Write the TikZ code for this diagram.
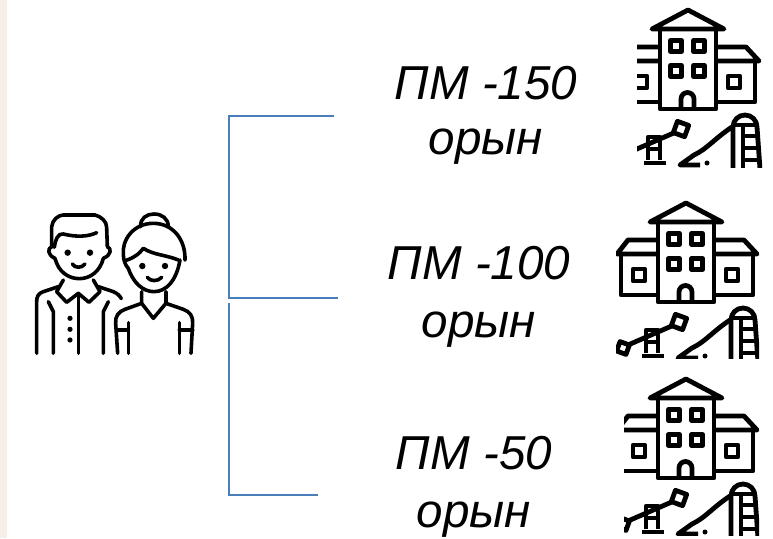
\documentclass[tikz,border=0pt]{standalone}
\usepackage{fontspec}
\setmainfont{Liberation Sans}
\usetikzlibrary{positioning,calc}
\definecolor{c1}{RGB}{74, 126, 187}
\definecolor{c2}{RGB}{246, 238, 232}
\tikzset{
	bracket/.style={
		c1, line width=2pt
	},
	%
	placelabel/.style={
		align=center, inner sep=0pt, font=\fontsize{47.6}{55}\selectfont\itshape
	},
	%
	iconline/.style={
		black, line width=4.8pt, line join=round
	},
	%
	personline/.style={
		black, line width=3.6pt, line cap=round, line join=round
	}
}
% school with playground, drawn from (0,0) of its own corner
\newcommand{\schoolicon}{
    \draw[iconline] (50,32) -- (86,13) -- (122,32) -- cycle;
    \draw[iconline] (58,32) -- (58,112) -- (114,112) -- (114,32);
    \foreach \wx in {74,97} {
        \foreach \wy in {49,74} {
            \draw[iconline] (\wx-5.5,\wy-5.5) rectangle (\wx+5.5,\wy+5.5);
        }
    }
    \draw[iconline] (79,112) -- (79,102) arc (180:360:6.5) -- (92,112);
    \draw[iconline] (58,50) -- (28,50) -- (17,64) -- (58,64);
    \draw[iconline] (21,64) -- (21,105) -- (58,105);
    \draw[iconline] (33,79) rectangle (45,91);
    \draw[iconline] (114,50) -- (144,50) -- (157,64) -- (114,64);
    \draw[iconline] (153,64) -- (153,105) -- (114,105);
    \draw[iconline] (126,79) rectangle (138,91);
    % slide
    \draw[iconline] (131,172) -- (131,130) arc (180:360:12) -- (158,172);
    \draw[iconline] (131,128) -- (155,128);
    \draw[iconline] (141,128) -- (141,172);
    \draw[iconline] (141,139) -- (156,139) (141,151) -- (157,151) (141,163) -- (158,163);
    \draw[iconline] (130,130) .. controls (112,142) and (105,152) .. (92,158) -- (78,168) -- (98,168);
    \fill (105,166) circle (2.5pt);
    % seesaw
    \draw[iconline, rotate around={-20:(79,132)}] (73,126) rectangle (85,138);
    \draw[iconline, rotate around={-20:(23,158)}] (18,153) rectangle (28,163);
    \draw[iconline] (28,155) -- (74,135);
    \draw[iconline] (46,163) -- (46,140) -- (58,140) -- (58,163) (46,152) -- (58,152);
    \draw[iconline] (42,166) -- (64,166);
}
\newcommand{\personicon}{
    % man
    \draw[personline] (95,170) -- (95,110) .. controls (97,90) and (115,75) .. (130,75) -- (225,75) .. controls (245,80) and (260,95) .. (260,112) -- (262,170);
    \draw[personline] (103,172) .. controls (105,150) and (115,128) .. (130,132) .. controls (170,142) and (205,140) .. (230,128);
    \draw[personline] (95,170) .. controls (82,175) and (82,195) .. (105,205);
    \draw[personline] (262,170) .. controls (275,175) and (275,195) .. (250,205);
    \draw[personline] (105,205) .. controls (115,245) and (145,266) .. (178,266) .. controls (210,266) and (240,245) .. (250,205);
    \fill (143,188) circle (3.2pt) (210,188) circle (3.2pt);
    \draw[personline] (157,222) .. controls (165,235) and (185,235) .. (195,222);
    \draw[personline] (130,270) -- (110,305) -- (140,337) -- (175,310) -- (207,337) -- (240,305) -- (220,270);
    \draw[personline] (115,290) -- (70,305) .. controls (55,310) and (50,320) .. (50,335) -- (50,490);
    \draw[personline] (235,290) -- (280,305) .. controls (292,310) and (300,318) .. (304,326);
    \draw[personline] (175,310) -- (175,490);
    \fill (150,385) circle (2.6pt) (150,418) circle (2.6pt) (150,450) circle (2.6pt);
    \draw[personline] (85,335) -- (100,365) -- (100,490);
    \draw[personline] (265,335) -- (250,365) -- (250,490);
    % woman
    \draw[personline] (362,110) .. controls (360,85) and (380,72) .. (402,72) .. controls (425,72) and (445,85) .. (445,110);
    \draw[personline] (495,210) .. controls (497,150) and (460,100) .. (400,100) .. controls (340,100) and (305,150) .. (310,195) .. controls (311,210) and (315,225) .. (325,235);
    \draw[personline] (315,212) .. controls (340,205) and (360,190) .. (370,175) .. controls (400,195) and (440,195) .. (475,210);
    \draw[personline] (325,235) .. controls (340,280) and (370,305) .. (402,305) .. controls (440,305) and (470,270) .. (480,210);
    \fill (367,228) circle (3.2pt) (435,228) circle (3.2pt);
    \draw[personline] (382,262) .. controls (390,275) and (415,275) .. (425,262);
    \draw[personline] (365,305) -- (365,340) -- (400,385) -- (438,340) -- (438,305);
    \draw[personline] (365,340) -- (315,358) .. controls (295,365) and (285,380) .. (287,400) -- (293,490);
    \draw[personline] (438,340) -- (490,358) .. controls (510,365) and (520,380) .. (518,400) -- (513,490);
    \draw[personline] (290,420) -- (325,420) (325,398) -- (325,490);
    \draw[personline] (478,398) -- (478,490) (478,420) -- (518,420);
}
\begin{document}
\begin{tikzpicture}[x=1pt, y=-1pt]
    \useasboundingbox (0,0) rectangle (773,538);
    \fill[c2] (0,0) rectangle (7,538);
    % labels
    \node(big)[placelabel] at (486,115.5) {ПМ -150\\орын};
    \node(mid)[placelabel] at (479,297) {ПМ -100\\[3pt]орын};
    \node(small)[placelabel] at (474,487) {ПМ -50\\[3pt]орын};
    % brackets
    \coordinate (bigend) at (334,116);
    \coordinate (midend) at (338,298);
    \coordinate (smallend) at (318,495);
    \coordinate (split) at (229,298);
    \coordinate (splitlow) at (229,303);
    \draw[bracket] (bigend) -- (bigend -| split) -- (split) -- (midend);
    \draw[bracket] (splitlow) -- (smallend -| splitlow) -- (smallend);
    % parents
    \begin{scope}[shift={(20,190)}, x=0.3333pt, y=-0.3333pt]
        \personicon
    \end{scope}
    % schools
    \begin{scope}
        \clip (637,0) rectangle (762,167);
        \begin{scope}[shift={(602,-3)}]
            \schoolicon
        \end{scope}
    \end{scope}
    \begin{scope}
        \clip (616,190) rectangle (759,358);
        \begin{scope}[shift={(600,190)}]
            \schoolicon
        \end{scope}
    \end{scope}
    \begin{scope}
        \clip (624,370) rectangle (759,535);
        \begin{scope}[shift={(600,366)}]
            \schoolicon
        \end{scope}
    \end{scope}
\end{tikzpicture}
\end{document}
